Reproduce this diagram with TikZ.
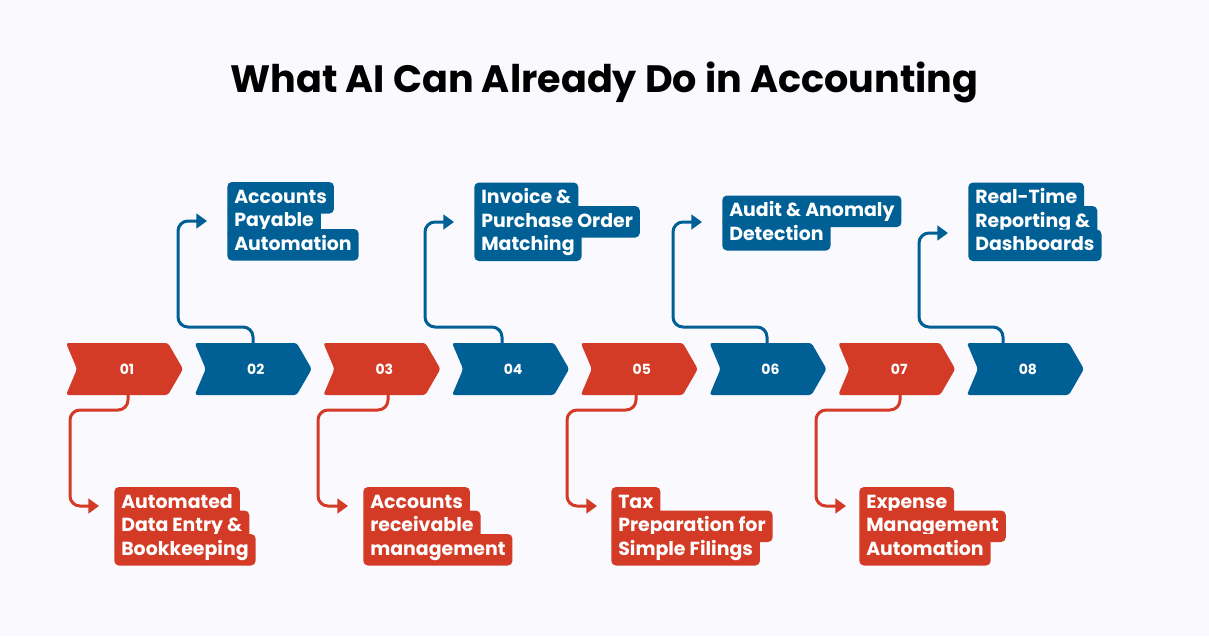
\documentclass[tikz,border=0pt]{standalone}
\usepackage{fontspec}
\setmainfont{Poppins}
\usetikzlibrary{arrows.meta}
\definecolor{aired}{HTML}{D33B27}
\definecolor{aiblue}{HTML}{006096}
\definecolor{aibg}{HTML}{F9F9FE}

\begin{document}
\begin{tikzpicture}[x=0.75pt,y=-0.75pt]
  % Define chevron, tag and connector styles
  \tikzstyle{mynumber} = [text=white, font=\bfseries\fontsize{10.5}{12}\selectfont]
  \tikzstyle{mytag} = [text=white, rounded corners=3.5pt, inner xsep=5.25pt,
  inner ysep=4.5pt, text height=11.25pt, text depth=3.4pt, anchor=base west,
  font=\bfseries\fontsize{14.2}{16}\selectfont]
  \tikzstyle{redtag} = [mytag, fill=aired]
  \tikzstyle{bluetag} = [mytag, fill=aiblue]
  \tikzstyle{myconn} = [line width=2.25pt, rounded corners=7.5pt,
  -{Triangle[length=8pt,width=11pt]}]

  \fill[aibg] (0,0) rectangle (1209,636);

  \node[font=\bfseries\fontsize{28.6}{34}\selectfont, anchor=base] (title)
  at (604.5,92) {What AI Can Already Do in Accounting};

  % Chevrons
  \foreach \i/\col in {1/aired,2/aiblue,3/aired,4/aiblue,5/aired,6/aiblue,7/aired,8/aiblue}{
    \pgfmathsetmacro{\xo}{66+128.7*(\i-1)}
    \fill[\col, rounded corners=2pt] (\xo,343) -- (\xo+102,343) -- (\xo+117,369)
    -- (\xo+102,395) -- (\xo,395) -- (\xo+11,369) -- cycle;
    \node[mynumber] (c0\i) at (\xo+61,369) {0\i};
  }

  % Upper tags
  \node[bluetag] (t02a) at (227,203) {Accounts};
  \node[bluetag] (t02b) at (227,226.5) {Payable};
  \node[bluetag] (t02c) at (227,250) {Automation};

  \node[bluetag] (t04a) at (474,203.5) {Invoice \&};
  \node[bluetag] (t04b) at (474,227) {Purchase Order};
  \node[bluetag] (t04c) at (474,250.5) {Matching};

  \node[bluetag] (t06a) at (722,216.5) {Audit \& Anomaly};
  \node[bluetag] (t06b) at (722,240) {Detection};

  \node[bluetag] (t08a) at (968,203.5) {Real-Time};
  \node[bluetag] (t08b) at (968,227) {Reporting \&};
  \node[bluetag] (t08c) at (968,250.5) {Dashboards};

  % Lower tags
  \node[redtag] (t01a) at (114,508) {Automated};
  \node[redtag] (t01b) at (114,531.5) {Data Entry \&};
  \node[redtag] (t01c) at (114,555) {Bookkeeping};

  \node[redtag] (t03a) at (363,508) {Accounts};
  \node[redtag] (t03b) at (363,531.5) {receivable};
  \node[redtag] (t03c) at (363,555) {management};

  \node[redtag] (t05a) at (611,508) {Tax};
  \node[redtag] (t05b) at (611,531.5) {Preparation for};
  \node[redtag] (t05c) at (611,555) {Simple Filings};

  \node[redtag] (t07a) at (859,508) {Expense};
  \node[redtag] (t07b) at (859,531.5) {Management};
  \node[redtag] (t07c) at (859,555) {Automation};

  % Connector ends
  \coordinate (s02) at (253,343); \coordinate (k02) at (178,327); \coordinate (a02) at (207,221);
  \coordinate (s04) at (502,343); \coordinate (k04) at (425,327); \coordinate (a04) at (454,222);
  \coordinate (s06) at (767,343); \coordinate (k06) at (673,327); \coordinate (a06) at (702,222);
  \coordinate (s08) at (1003,343); \coordinate (k08) at (919,327); \coordinate (a08) at (948,233);
  \coordinate (s01) at (128,395); \coordinate (k01) at (70,410); \coordinate (a01) at (99,506);
  \coordinate (s03) at (388,395); \coordinate (k03) at (318,410); \coordinate (a03) at (348,506);
  \coordinate (s05) at (636,395); \coordinate (k05) at (567,410); \coordinate (a05) at (597,506);
  \coordinate (s07) at (900,395); \coordinate (k07) at (816,410); \coordinate (a07) at (846,506);

  \foreach \j in {02,04,06,08}
    \draw[myconn, aiblue] (s\j) |- (k\j) |- (a\j);
  \foreach \j in {01,03,05,07}
    \draw[myconn, aired] (s\j) |- (k\j) |- (a\j);
\end{tikzpicture}
\end{document}
